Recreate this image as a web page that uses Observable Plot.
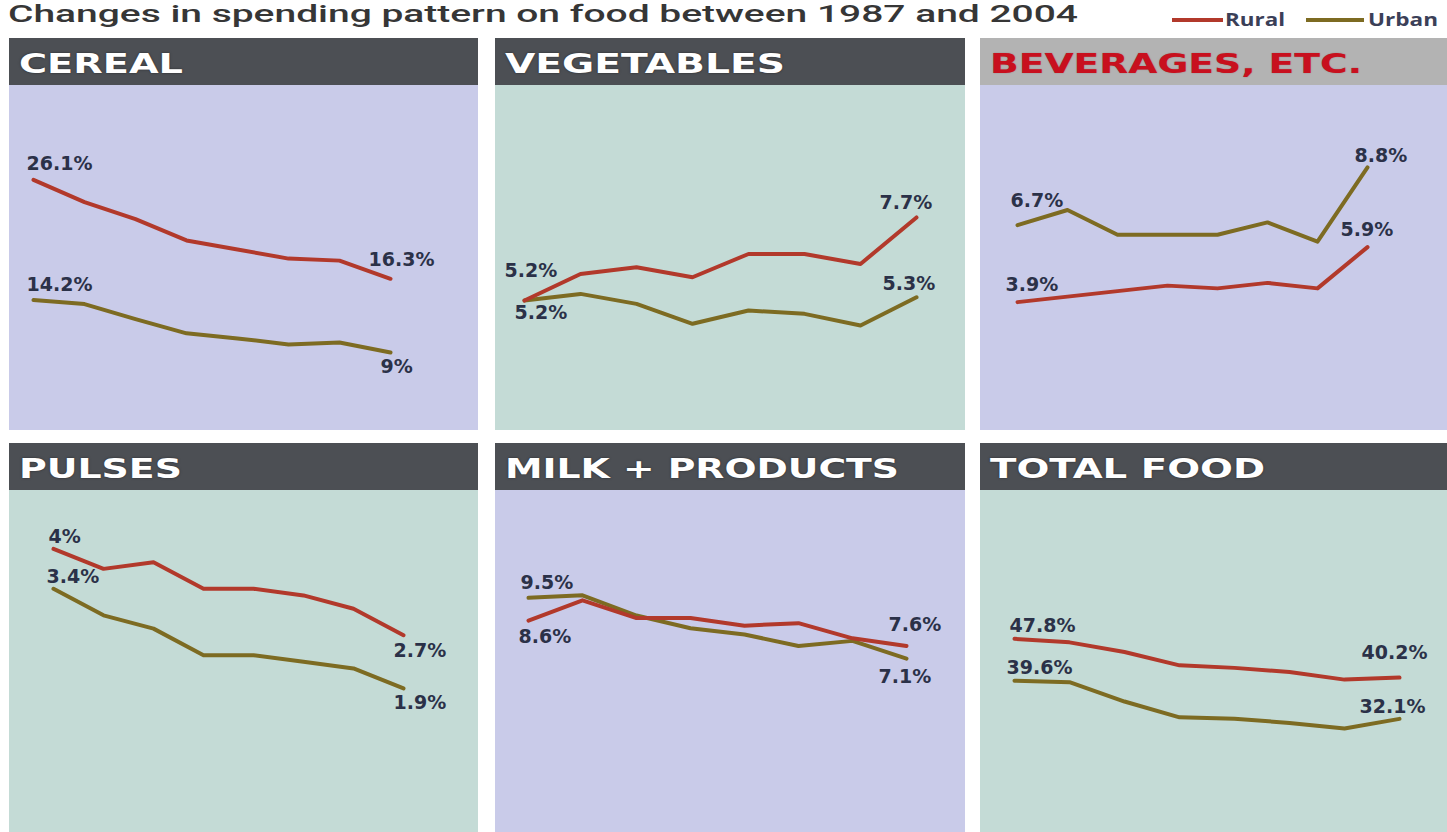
<!DOCTYPE html>
<html><head><meta charset="utf-8">
<script src="https://cdn.jsdelivr.net/npm/d3@7"></script>
<script src="https://cdn.jsdelivr.net/npm/@observablehq/plot@0.6"></script>
<style>
html,body{margin:0;padding:0;background:#fff;}
body{width:1447px;height:832px;position:relative;overflow:hidden;}
.title{position:absolute;left:8px;top:0px;font-family:Roboto;font-weight:500;font-size:24px;line-height:normal;color:#363636;white-space:nowrap;transform-origin:left center;}
.lg-sw{position:absolute;height:4px;}
.lg-tx{position:absolute;font-family:"Open Sans";font-weight:700;font-size:17px;line-height:22px;color:#3b4058;white-space:nowrap;transform-origin:left center;}
.panel{position:absolute;}
.head{height:47px;position:relative;overflow:hidden;}
.head span{position:absolute;left:10px;top:0;line-height:51px;font-family:"DejaVu Sans";font-weight:bold;font-size:27px;white-space:nowrap;transform-origin:left center;text-shadow:0 0 2px rgba(0,0,0,0.5);}
.panel svg{display:block;}
</style></head><body>
<script>
// ---------- DATA ----------
const periods = ["1987-88","1993-94","1999-00","2000-01","2001-02","2002","2003","2004"];
const categories = ["CEREAL","VEGETABLES","BEVERAGES, ETC.","PULSES","MILK + PRODUCTS","TOTAL FOOD"];
const seriesNames = ["Rural","Urban"];
const cerealRural     = [26.1, 23.9, 22.2, 20.1, 19.2, 18.3, 18.1, 16.3];
const cerealUrban     = [14.2, 13.8, 12.3, 10.9, 10.4, 9.8, 10.0, 9.0];
const vegetablesRural = [5.2, 6.0, 6.2, 5.9, 6.6, 6.6, 6.3, 7.7];
const vegetablesUrban = [5.2, 5.4, 5.1, 4.5, 4.9, 4.8, 4.45, 5.3];
const beveragesRural  = [3.9, 4.1, 4.3, 4.5, 4.4, 4.6, 4.4, 5.9];
const beveragesUrban  = [6.7, 7.25, 6.35, 6.35, 6.35, 6.8, 6.1, 8.8];
const pulsesRural     = [4.0, 3.7, 3.8, 3.4, 3.4, 3.3, 3.1, 2.7];
const pulsesUrban     = [3.4, 3.0, 2.8, 2.4, 2.4, 2.3, 2.2, 1.9];
const milkRural       = [8.6, 9.4, 8.7, 8.7, 8.4, 8.5, 7.9, 7.6];
const milkUrban       = [9.5, 9.6, 8.8, 8.3, 8.05, 7.6, 7.8, 7.1];
const totalRural      = [47.8, 47.1, 45.2, 42.6, 42.1, 41.3, 39.8, 40.2];
const totalUrban      = [39.6, 39.3, 35.5, 32.4, 32.15, 31.3, 30.2, 32.1];
const seriesValues = [
  [cerealRural, cerealUrban],
  [vegetablesRural, vegetablesUrban],
  [beveragesRural, beveragesUrban],
  [pulsesRural, pulsesUrban],
  [milkRural, milkUrban],
  [totalRural, totalUrban]
];

// ---------- STYLE / LAYOUT ----------
const ruralColor = "#b2392b", urbanColor = "#7d6b22";
const lavender = "#c9cbe9", mint = "#c4dbd6";
const labelColor = "#2b3148";
const layout = [
  {left:9,   top:38,  width:469, h:345, ml:22.7, mr:86,   yd:[1.28,35.44], bg:lavender, hb:"#4c4f54", hc:"#ffffff", tw:164,
   lab:{Rural:{first:[-7,-16], last:[-22,-19]}, Urban:{first:[-7,-15], last:[-10,14]}}},
  {left:495, top:38,  width:470, h:345, ml:28,   mr:49,   yd:[1.29,11.67], bg:mint, hb:"#4c4f54", hc:"#ffffff", tw:280,
   lab:{Rural:{first:[-20,-30], last:[-37,-15]}, Urban:{first:[-10,12.5], last:[-34,-13]}}},
  {left:980, top:38,  width:467, h:345, ml:36.7, mr:80.3, yd:[-0.77,11.78], bg:lavender, hb:"#b3b3b3", hc:"#c8101e", tw:372,
   lab:{Rural:{first:[-12,-17], last:[-27,-17]}, Urban:{first:[-7,-24.5], last:[-13,-12]}}},
  {left:9,   top:443, width:469, h:342, ml:42.7, mr:73,   yd:[-0.27,4.88], bg:mint, hb:"#4c4f54", hc:"#ffffff", tw:163,
   lab:{Rural:{first:[-5,-12], last:[-10,15.5]}, Urban:{first:[-7,-11.5], last:[-10,15]}}},
  {left:495, top:443, width:470, h:342, ml:30,   mr:56.7, yd:[0.23,13.74], bg:lavender, hb:"#4c4f54", hc:"#ffffff", tw:394,
   lab:{Rural:{first:[-10,16.5], last:[-18,-21.5]}, Urban:{first:[-8,-15], last:[-28,18]}}},
  {left:980, top:443, width:467, h:342, ml:33.3, mr:47,   yd:[9.83,76.87], bg:mint, hb:"#4c4f54", hc:"#ffffff", tw:275,
   lab:{Rural:{first:[-5,-13], last:[-38,-25]}, Urban:{first:[-8,-13], last:[-40,-12]}}}
];

function fit(el, w) {
  const n = el.getBoundingClientRect().width;
  if (n > 0) el.style.transform = `scaleX(${w / n})`;
}

// Title
const title = document.createElement("div");
title.className = "title";
title.textContent = "Changes in spending pattern on food between 1987 and 2004";
document.body.appendChild(title);
fit(title, 1070);

// Legend
const legendItems = [
  {name: seriesNames[0], color: ruralColor, sw:[1172, 51], tx:[1225, 60]},
  {name: seriesNames[1], color: urbanColor, sw:[1306, 58], tx:[1368, 70]}
];
for (const it of legendItems) {
  const sw = document.createElement("div");
  sw.className = "lg-sw";
  sw.style.left = it.sw[0] + "px"; sw.style.width = it.sw[1] + "px"; sw.style.top = "18px";
  sw.style.background = it.color;
  document.body.appendChild(sw);
  const tx = document.createElement("div");
  tx.className = "lg-tx";
  tx.style.left = it.tx[0] + "px"; tx.style.top = "9px";
  tx.textContent = it.name;
  document.body.appendChild(tx);
  fit(tx, it.tx[1]);
}

// Panels
categories.forEach((cat, i) => {
  const L = layout[i];
  const rows = [];
  seriesNames.forEach((s, j) => {
    seriesValues[i][j].forEach((v, k) => rows.push({series: s, period: periods[k], value: v, k}));
  });
  const panel = document.createElement("div");
  panel.className = "panel";
  panel.style.left = L.left + "px"; panel.style.top = L.top + "px"; panel.style.width = L.width + "px";
  const head = document.createElement("div");
  head.className = "head";
  head.style.background = L.hb;
  const span = document.createElement("span");
  span.textContent = cat;
  span.style.color = L.hc;
  if (L.hc !== "#ffffff") span.style.textShadow = "0 0 1px rgba(80,0,0,0.4)";
  head.appendChild(span);
  panel.appendChild(head);
  document.body.appendChild(panel);
  fit(span, L.tw);

  const marks = [];
  const colorOf = {Rural: ruralColor, Urban: urbanColor};
  for (const s of ["Urban", "Rural"]) {
    marks.push(Plot.line(rows.filter(d => d.series === s), {
      x: "period", y: "value", stroke: colorOf[s], strokeWidth: 4, strokeLinejoin: "round", strokeLinecap: "round"
    }));
  }
  for (const s of seriesNames) {
    for (const which of ["first", "last"]) {
      const idx = which === "first" ? 0 : periods.length - 1;
      const d = rows.filter(r => r.series === s && r.k === idx);
      const [dx, dy] = L.lab[s][which];
      marks.push(Plot.text(d, {
        x: "period", y: "value", text: r => `${r.value}%`, dx, dy,
        textAnchor: "start", fontSize: 19, fontWeight: "bold", fill: labelColor
      }));
    }
  }
  const svg = Plot.plot({
    width: L.width, height: L.h,
    marginTop: 0, marginBottom: 0, marginLeft: L.ml, marginRight: L.mr,
    x: {type: "point", domain: periods, padding: 0, axis: null},
    y: {domain: L.yd, axis: null},
    style: {background: L.bg, fontFamily: "DejaVu Sans", overflow: "visible"},
    marks
  });
  panel.appendChild(svg);
});
</script>
</body></html>
